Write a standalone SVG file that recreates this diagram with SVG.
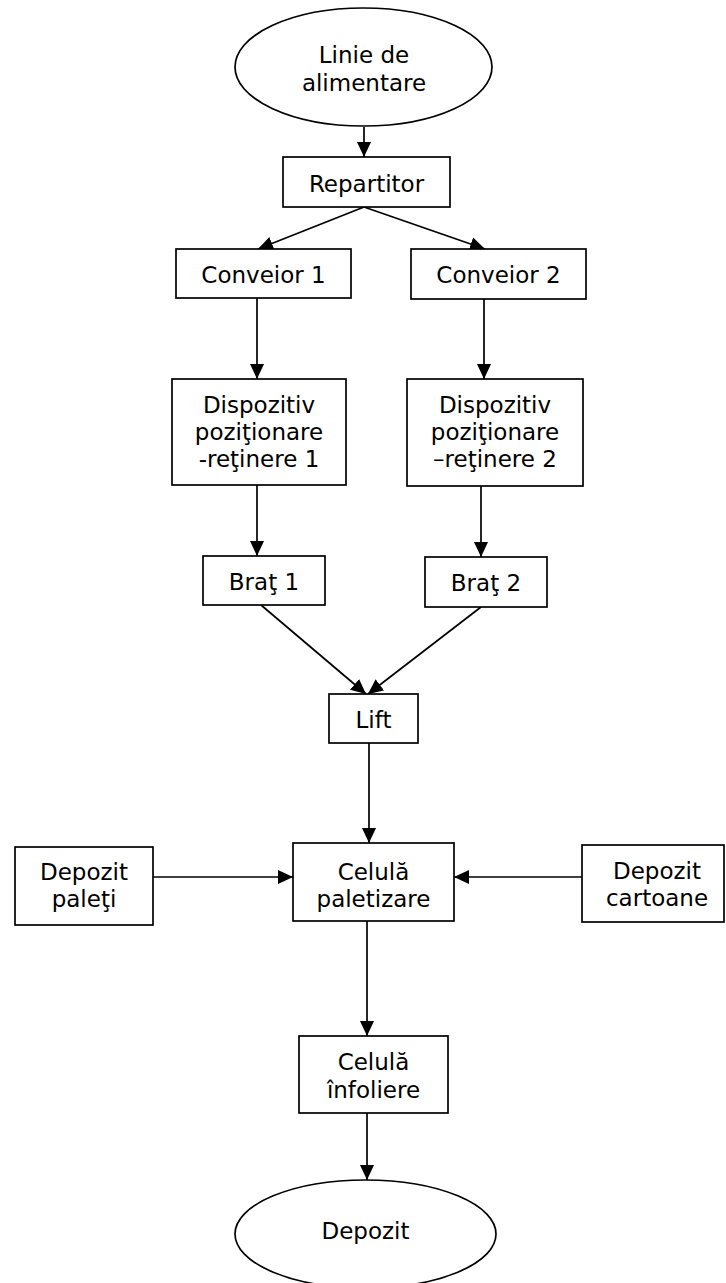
<svg xmlns="http://www.w3.org/2000/svg" width="726" height="1283" viewBox="0 0 726 1283">
  <style>
    .shape { fill: #ffffff; stroke: #000000; stroke-width: 1.7; }
    .label { font-family: "DejaVu Sans", Verdana, sans-serif; font-size: 23px; fill: #000000; text-anchor: middle; }
    .link { fill: none; stroke: #000000; stroke-width: 1.7; marker-end: url(#arrow); }
  </style>
  <defs>
    <marker id="arrow" markerUnits="userSpaceOnUse" markerWidth="16" markerHeight="16" viewBox="0 0 16 16" refX="15" refY="8" orient="auto">
      <path d="M0,1 L15,8 L0,15 Z" fill="#000000"/>
    </marker>
  </defs>
  <rect width="726" height="1283" fill="#ffffff"/>

  <g id="connectors">
    <line class="link" x1="364" y1="127" x2="364" y2="157"/>
    <line class="link" x1="364" y1="207" x2="258" y2="249"/>
    <line class="link" x1="364" y1="207" x2="485" y2="249"/>
    <line class="link" x1="257" y1="298" x2="257" y2="379"/>
    <line class="link" x1="484" y1="299" x2="484" y2="379"/>
    <line class="link" x1="257" y1="485" x2="257" y2="556"/>
    <line class="link" x1="481" y1="486" x2="481" y2="557"/>
    <line class="link" x1="261" y1="605" x2="366" y2="694"/>
    <line class="link" x1="481" y1="607" x2="368" y2="694"/>
    <line class="link" x1="369" y1="743" x2="369" y2="843"/>
    <line class="link" x1="153" y1="877" x2="293" y2="877"/>
    <line class="link" x1="582" y1="877" x2="454" y2="877"/>
    <line class="link" x1="367" y1="921" x2="367" y2="1036"/>
    <line class="link" x1="367" y1="1113" x2="367" y2="1180"/>
  </g>

  <g id="linie-alimentare">
    <ellipse class="shape" cx="363.5" cy="67" rx="128.5" ry="59"/>
    <text class="label" x="364" y="63">Linie de</text>
    <text class="label" x="364" y="91">alimentare</text>
  </g>

  <g id="repartitor">
    <rect class="shape" x="283" y="157" width="167" height="50"/>
    <text class="label" x="366.5" y="192">Repartitor</text>
  </g>

  <g id="conveior-1">
    <rect class="shape" x="176" y="249" width="175" height="49"/>
    <text class="label" x="263.5" y="283">Conveior 1</text>
  </g>

  <g id="conveior-2">
    <rect class="shape" x="411" y="249" width="175" height="50"/>
    <text class="label" x="498.5" y="283">Conveior 2</text>
  </g>

  <g id="dispozitiv-1">
    <rect class="shape" x="172" y="379" width="174" height="106"/>
    <text class="label" x="259" y="413">Dispozitiv</text>
    <text class="label" x="259" y="440">poziţionare</text>
    <text class="label" x="259" y="467">-reţinere 1</text>
  </g>

  <g id="dispozitiv-2">
    <rect class="shape" x="407" y="379" width="176" height="107"/>
    <text class="label" x="495" y="413">Dispozitiv</text>
    <text class="label" x="495" y="440">poziţionare</text>
    <text class="label" x="495" y="467">–reţinere 2</text>
  </g>

  <g id="brat-1">
    <rect class="shape" x="203" y="556" width="122" height="49"/>
    <text class="label" x="264" y="590">Braţ 1</text>
  </g>

  <g id="brat-2">
    <rect class="shape" x="425" y="557" width="122" height="50"/>
    <text class="label" x="486" y="591">Braţ 2</text>
  </g>

  <g id="lift">
    <rect class="shape" x="329" y="694" width="89" height="49"/>
    <text class="label" x="373.5" y="728">Lift</text>
  </g>

  <g id="depozit-paleti">
    <rect class="shape" x="15" y="847" width="138" height="78"/>
    <text class="label" x="84" y="880">Depozit</text>
    <text class="label" x="84" y="907">paleţi</text>
  </g>

  <g id="celula-paletizare">
    <rect class="shape" x="293" y="843" width="161" height="78"/>
    <text class="label" x="373.5" y="880">Celulă</text>
    <text class="label" x="373.5" y="907">paletizare</text>
  </g>

  <g id="depozit-cartoane">
    <rect class="shape" x="582" y="845" width="142" height="77"/>
    <text class="label" x="657" y="879">Depozit</text>
    <text class="label" x="657" y="906">cartoane</text>
  </g>

  <g id="celula-infoliere">
    <rect class="shape" x="299" y="1036" width="149" height="77"/>
    <text class="label" x="373.5" y="1070">Celulă</text>
    <text class="label" x="373.5" y="1098">înfoliere</text>
  </g>

  <g id="depozit">
    <ellipse class="shape" cx="365.5" cy="1234" rx="130.5" ry="54"/>
    <text class="label" x="365.5" y="1239">Depozit</text>
  </g>
</svg>
